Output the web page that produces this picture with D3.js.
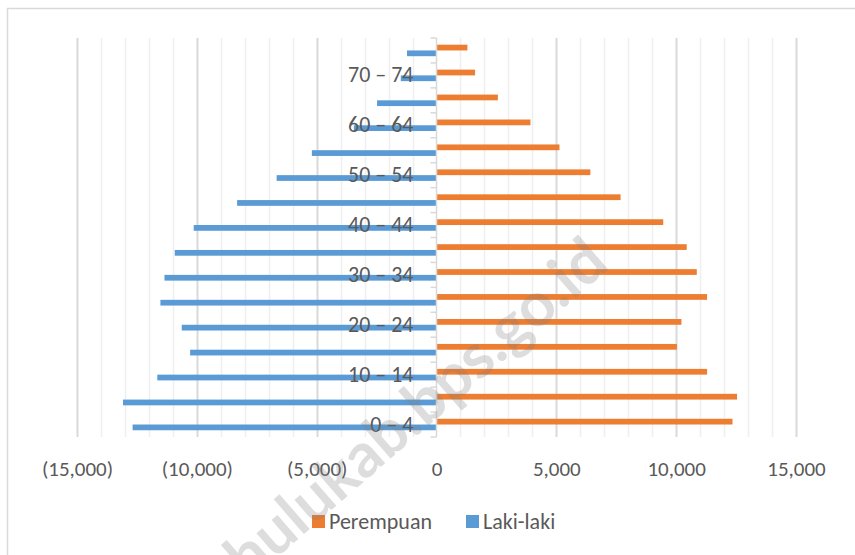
<!DOCTYPE html>
<html>
<head>
<meta charset="utf-8">
<script src="https://cdn.jsdelivr.net/npm/d3@7"></script>
<style>
  body { margin: 0; background: #fff; }
  text { font-family: Carlito, Calibri, Lato, sans-serif; fill: #595959; }
</style>
</head>
<body>
<div id="chart"></div>
<script>
// age groups, bottom to top
const ages = ['0 – 4', '5 – 9', '10 – 14', '15 – 19', '20 – 24', '25 – 29', '30 – 34', '35 – 39',
  '40 – 44', '45 – 49', '50 – 54', '55 – 59', '60 – 64', '65 – 69', '70 – 74', '75+']
const perempuan = [12350, 12540, 11290, 10030, 10220, 11290, 10860, 10440,
  9460, 7680, 6420, 5130, 3920, 2560, 1610, 1290]
const lakiLaki = [-12680, -13080, -11650, -10280, -10630, -11520, -11350, -10920,
  -10130, -8320, -6670, -5200, -3450, -2480, -1490, -1230]
const xTicks = [-15000, -10000, -5000, 0, 5000, 10000, 15000]
const seriesNames = ['Perempuan', 'Laki-laki']

const width = 855
const height = 555
const plot = { left: 77, right: 796, top: 38, bottom: 437 }

const svg = d3
  .select('#chart')
  .append('svg')
  .attr('width', width)
  .attr('height', height)

// chart area border (runs off the picture on the right and bottom)
svg
  .append('rect')
  .attr('x', 7.5)
  .attr('y', 8.5)
  .attr('width', 870)
  .attr('height', 570)
  .attr('fill', '#fff')
  .attr('stroke', '#d9d9d9')
  .attr('stroke-width', 1.5)

const xPositionScale = d3.scaleLinear().domain([-15000, 15000]).range([plot.left, plot.right])
const yPositionScale = d3.scaleBand().domain(ages).range([plot.bottom, plot.top])
const subScale = d3.scaleBand().domain(seriesNames).range([6.7, 18.2])
const colors = { 'Perempuan': '#ED7D31', 'Laki-laki': '#5B9BD5' }

// gridlines, minor every 1,000 and major every 5,000
const gridValues = d3.range(-15000, 15001, 1000).filter(d => d !== 0)
svg
  .append('g')
  .selectAll('line')
  .data(gridValues)
  .enter()
  .append('line')
  .attr('x1', d => Math.round(xPositionScale(d)) + 0.5)
  .attr('x2', d => Math.round(xPositionScale(d)) + 0.5)
  .attr('y1', plot.top)
  .attr('y2', plot.bottom)
  .attr('stroke', d => (d % 5000 === 0 ? '#d9d9d9' : '#efefef'))
  .attr('stroke-width', d => (d % 5000 === 0 ? 2 : 1.5))

const rows = ages.map((age, i) => ({ age, Perempuan: perempuan[i], 'Laki-laki': lakiLaki[i] }))

seriesNames.forEach(name => {
  svg
    .append('g')
    .selectAll('rect')
    .data(rows)
    .enter()
    .append('rect')
    .attr('x', d => xPositionScale(Math.min(0, d[name])))
    .attr('width', d => Math.abs(xPositionScale(d[name]) - xPositionScale(0)))
    .attr('y', d => yPositionScale(d.age) + subScale(name))
    .attr('height', subScale.bandwidth())
    .attr('fill', colors[name])
})

// vertical axis line with tick marks at the band edges
const x0 = xPositionScale(0)
svg
  .append('line')
  .attr('x1', x0)
  .attr('x2', x0)
  .attr('y1', plot.top)
  .attr('y2', plot.bottom)
  .attr('stroke', '#d9d9d9')
  .attr('stroke-width', 1.5)

const edges = ages.map(a => yPositionScale(a)).concat([plot.bottom])
svg
  .append('g')
  .selectAll('line')
  .data(edges)
  .enter()
  .append('line')
  .attr('x1', x0 - 6)
  .attr('x2', x0)
  .attr('y1', d => d)
  .attr('y2', d => d)
  .attr('stroke', '#d9d9d9')
  .attr('stroke-width', 1.5)

// category labels, every other group
const yAxis = d3
  .axisLeft(yPositionScale)
  .tickSize(0)
  .tickPadding(23)
  .tickFormat((d, i) => (i % 2 === 0 ? d : ''))
svg
  .append('g')
  .attr('class', 'axis y-axis')
  .attr('transform', 'translate(' + x0 + ',0)')
  .call(yAxis)
  .call(g => g.select('.domain').remove())
  .selectAll('text')
  .attr('font-size', 22)
  .style('font-family', 'Carlito, Calibri, Lato, sans-serif')
  .style('fill', '#595959')

// value axis labels
const fmt = d3.format(',')
const xAxis = d3
  .axisBottom(xPositionScale)
  .tickValues(xTicks)
  .tickSize(0)
  .tickPadding(24)
  .tickFormat(d => (d < 0 ? '(' + fmt(-d) + ')' : fmt(d)))
svg
  .append('g')
  .attr('class', 'axis x-axis')
  .attr('transform', 'translate(0,' + plot.bottom + ')')
  .call(xAxis)
  .call(g => g.select('.domain').remove())
  .selectAll('text')
  .attr('font-size', 21)
  .style('font-family', 'Carlito, Calibri, Lato, sans-serif')
  .style('fill', '#595959')

// legend
const legend = svg
  .append('g')
  .selectAll('g')
  .data(seriesNames)
  .enter()
  .append('g')
  .attr('transform', (d, i) => 'translate(' + [312, 466][i] + ',515)')
legend
  .append('rect')
  .attr('width', 13)
  .attr('height', 13)
  .attr('fill', d => colors[d])
legend
  .append('text')
  .text(d => d)
  .attr('x', 17)
  .attr('y', 6.5)
  .attr('dy', '0.35em')
  .attr('font-size', 22)

// watermark, on top of everything
svg
  .append('text')
  .text('kapuashulukab.bps.go.id')
  .attr('transform', 'translate(611,267) rotate(-41)')
  .attr('text-anchor', 'end')
  .attr('font-size', 62)
  .attr('font-weight', 'bold')
  .style('font-family', 'Lato, sans-serif')
  .style('fill', '#7f7f7f')
  .attr('opacity', 0.26)
</script>
</body>
</html>
